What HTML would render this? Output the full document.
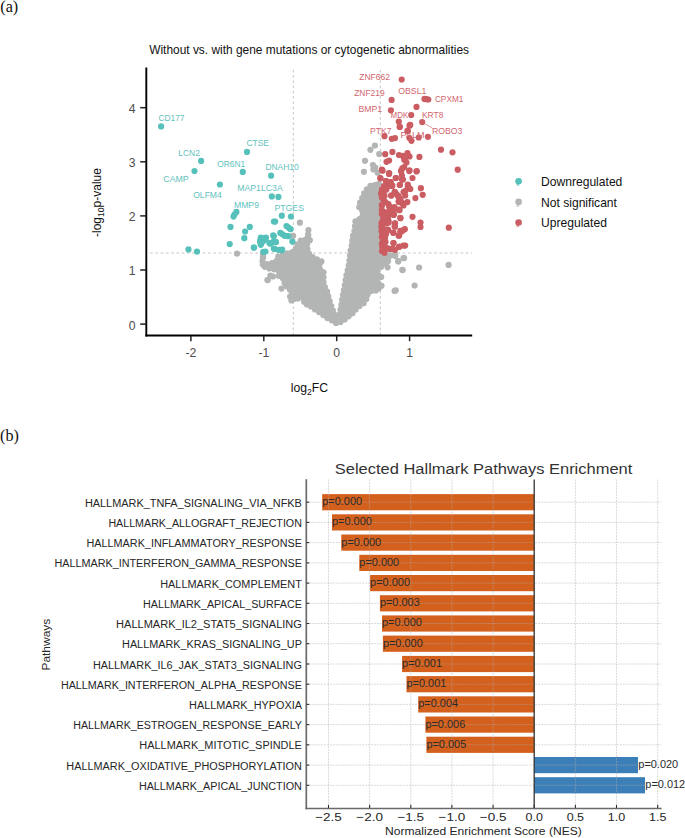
<!DOCTYPE html>
<html><head><meta charset="utf-8"><title>Figure</title>
<style>html,body{margin:0;padding:0;background:#fff;}body{width:685px;height:838px;position:relative;overflow:hidden;font-family:"Liberation Sans",sans-serif;}</style>
</head><body>
<svg width="685" height="838" viewBox="0 0 685 838" style="position:absolute;left:0;top:0"><rect width="685" height="838" fill="#fff"/><text x="0.3" y="11.5" font-family="Liberation Serif" font-size="16.2" fill="#111">(a)</text><text x="0.1" y="440.9" font-family="Liberation Serif" font-size="16.2" fill="#111">(b)</text><text x="149.2" y="53.8" font-family="Liberation Sans" font-size="11.9" fill="#111" textLength="319.8" lengthAdjust="spacingAndGlyphs">Without vs. with gene mutations or cytogenetic abnormalities</text><line x1="293.3" y1="335.4" x2="293.3" y2="67.5" stroke="#c4c4c4" stroke-width="1" stroke-dasharray="2.6 2.66" fill="none"/><line x1="380.3" y1="335.4" x2="380.3" y2="67.5" stroke="#c4c4c4" stroke-width="1" stroke-dasharray="2.6 2.66" fill="none"/><line x1="150.2" y1="253.0" x2="472" y2="253.0" stroke="#c4c4c4" stroke-width="1" stroke-dasharray="2.6 2.66" fill="none"/><polygon fill="#b3b5b4" points="308.2,235.5 306.3,238.8 306.2,239.1 306.0,239.3 305.9,239.4 305.7,239.6 305.5,239.8 305.2,239.9 305.0,240.0 304.8,240.1 304.5,240.2 304.3,240.2 304.0,240.2 301.3,240.2 299.0,241.9 297.0,245.2 295.3,250.2 295.2,250.4 295.0,250.7 294.9,250.9 294.7,251.1 294.5,251.3 294.3,251.5 294.1,251.6 293.9,251.7 293.6,251.8 293.4,251.9 287.6,253.4 280.0,255.6 277.4,257.2 276.6,260.6 276.6,260.8 276.5,261.1 276.4,261.3 276.2,261.5 276.1,261.7 275.9,261.9 275.7,262.1 275.5,262.2 275.3,262.4 275.1,262.5 274.8,262.6 274.6,262.6 267.6,264.1 264.5,264.8 264.2,265.8 265.2,267.6 277.0,269.8 277.3,269.9 277.5,270.0 277.8,270.1 278.0,270.2 278.2,270.4 278.4,270.6 278.6,270.8 278.7,271.0 278.9,271.2 279.0,271.5 279.1,271.7 279.1,272.0 279.2,272.2 279.2,272.5 279.2,272.8 278.8,276.2 280.3,277.1 282.7,278.3 282.9,278.4 283.1,278.5 283.3,278.7 283.5,278.9 283.7,279.1 283.8,279.3 283.9,279.5 284.0,279.7 284.1,280.0 284.2,280.2 284.9,284.2 285.2,286.3 286.8,286.3 287.1,286.3 287.3,286.4 287.6,286.4 287.9,286.5 288.1,286.6 288.4,286.8 288.6,287.0 288.8,287.2 288.9,287.4 289.1,287.6 289.2,287.8 289.3,288.1 290.6,291.5 292.5,295.3 292.6,295.5 294.0,299.2 296.7,300.0 298.7,297.7 298.9,297.5 299.1,297.4 299.3,297.2 299.5,297.1 299.8,297.0 300.0,296.9 300.3,296.8 300.5,296.8 300.8,296.8 301.1,296.8 301.3,296.9 301.6,296.9 301.8,297.0 302.0,297.2 302.3,297.3 302.5,297.5 302.7,297.6 302.8,297.9 303.0,298.1 303.1,298.3 303.2,298.5 303.3,298.8 304.7,303.8 305.6,305.1 306.6,304.6 306.9,304.5 307.1,304.4 307.4,304.3 307.6,304.3 307.9,304.3 308.2,304.3 308.4,304.4 308.7,304.5 308.9,304.6 309.2,304.7 309.4,304.8 309.6,305.0 309.8,305.2 311.7,307.2 315.4,309.6 315.4,309.6 321.6,313.7 321.8,313.9 326.7,317.8 332.5,320.7 332.8,320.9 336.9,323.6 339.0,323.0 343.7,320.2 348.6,316.3 353.5,312.4 357.4,307.5 357.6,307.3 357.8,307.1 358.0,306.9 363.7,303.2 367.1,297.9 367.6,294.5 367.7,294.2 367.8,294.0 367.9,293.7 368.0,293.5 368.2,293.2 368.4,293.0 368.6,292.8 368.8,292.7 372.3,290.3 372.5,290.1 372.8,290.0 373.0,289.9 373.3,289.9 373.5,289.8 373.8,289.8 374.1,289.8 374.4,289.9 374.6,289.9 374.9,290.0 375.1,290.1 375.4,290.3 377.0,291.5 378.1,289.5 379.9,285.9 377.3,282.0 377.1,281.8 377.0,281.6 376.9,281.3 376.9,281.1 376.8,280.8 376.8,280.6 376.8,280.3 376.8,280.0 376.9,279.8 377.0,279.6 377.1,279.3 377.2,279.1 377.3,278.9 379.3,276.2 377.6,272.6 377.5,272.3 377.4,272.1 377.3,271.8 377.3,271.5 377.3,271.2 377.3,271.0 377.4,270.7 377.5,270.4 379.5,265.2 379.6,265.0 379.7,264.7 379.9,264.5 380.1,264.3 380.3,264.1 380.5,264.0 380.7,263.8 380.9,263.7 381.2,263.6 381.5,263.6 381.7,263.5 382.0,263.5 382.3,263.5 382.5,263.6 382.8,263.6 383.1,263.7 383.3,263.8 384.5,264.5 385.9,264.2 386.3,258.3 386.3,258.1 386.4,257.8 386.5,257.6 386.6,257.3 386.7,257.1 386.8,256.9 387.0,256.7 387.2,256.5 387.4,256.3 387.6,256.2 387.8,256.1 388.1,256.0 388.3,255.9 388.6,255.8 395.1,254.7 394.7,254.6 385.5,256.2 385.2,256.2 384.9,256.2 384.6,256.2 384.3,256.1 384.1,256.0 383.8,255.9 383.6,255.8 383.4,255.6 383.1,255.5 383.0,255.3 380.0,251.8 379.8,251.5 379.6,251.3 379.5,251.1 379.4,250.8 379.4,250.6 379.3,250.3 379.3,250.0 378.8,183.2 378.8,183.2 376.5,184.7 376.3,184.9 376.0,185.0 375.8,185.1 375.5,185.1 375.3,185.2 375.0,185.2 374.8,185.2 374.5,185.2 374.3,185.1 372.2,184.5 368.5,187.6 365.2,190.9 362.6,197.1 362.5,197.3 361.1,200.1 359.2,204.8 359.1,205.0 358.9,205.4 359.6,208.7 362.5,211.2 362.7,211.3 362.8,211.5 363.0,211.8 363.1,212.0 363.2,212.3 363.3,212.5 363.4,212.8 363.4,213.1 363.4,213.3 363.4,213.6 363.3,213.9 363.2,214.1 362.1,217.1 362.0,217.4 361.9,217.6 361.8,217.8 361.6,218.0 361.4,218.2 361.2,218.4 361.0,218.5 360.8,218.6 360.5,218.7 355.9,220.5 354.8,222.5 355.2,228.3 355.2,228.5 355.2,228.8 355.1,229.0 355.1,229.3 355.0,229.5 353.0,234.3 352.6,239.0 352.6,239.1 351.6,246.3 351.5,246.5 350.6,250.5 349.6,259.5 349.6,259.6 348.4,267.7 348.3,267.9 346.3,276.0 344.3,288.2 344.3,288.2 341.8,301.4 341.2,307.3 341.1,307.5 341.1,307.8 339.2,314.1 339.1,314.3 339.0,314.6 338.9,314.8 338.7,315.0 338.5,315.2 338.3,315.4 338.1,315.5 337.9,315.7 337.7,315.8 337.4,315.9 337.2,315.9 336.9,316.0 336.6,316.0 336.4,316.0 336.1,316.0 335.9,315.9 335.6,315.8 335.4,315.7 335.2,315.6 334.9,315.4 334.7,315.3 334.6,315.1 334.4,314.9 334.3,314.6 334.1,314.4 334.0,314.2 331.8,307.7 329.7,301.6 329.7,301.4 328.2,296.2 328.2,296.1 326.8,290.4 324.6,286.6 324.5,286.4 324.4,286.2 324.4,285.9 323.4,281.6 323.3,281.4 323.3,281.1 323.3,280.9 323.5,276.9 323.5,276.8 323.8,273.6 323.5,271.6 320.6,269.8 320.3,269.6 320.1,269.5 319.9,269.3 319.8,269.0 319.6,268.8 319.5,268.6 319.4,268.3 319.4,268.0 319.3,267.8 319.3,267.5 319.3,265.5 319.3,265.2 319.4,265.0 319.4,264.7 319.5,264.4 319.6,264.2 319.8,264.0 319.9,263.7 320.1,263.5 320.3,263.4 320.6,263.2 322.4,262.1 322.1,261.7 318.0,260.0 317.7,259.9 317.5,259.7 314.8,257.9 311.1,256.5 310.8,256.4 310.6,256.3 310.4,256.2 310.2,256.0 310.0,255.8 309.8,255.6 309.7,255.4 309.6,255.2 309.5,254.9 308.0,250.9 307.9,250.6 306.9,246.1 306.8,245.8 306.8,245.5 306.8,245.3 306.9,245.0 306.9,244.7 307.0,244.4 307.1,244.2 307.3,244.0 307.5,243.7 309.8,241.0 309.8,238.6 308.2,235.5"/><circle cx="308.2" cy="235.5" r="3.1" fill="#b3b5b4"/><circle cx="305.6" cy="239.7" r="3.1" fill="#b3b5b4"/><circle cx="300.8" cy="240.6" r="3.1" fill="#b3b5b4"/><circle cx="297.5" cy="244.3" r="3.1" fill="#b3b5b4"/><circle cx="295.7" cy="248.9" r="3.1" fill="#b3b5b4"/><circle cx="292.4" cy="252.2" r="3.1" fill="#b3b5b4"/><circle cx="287.6" cy="253.4" r="3.1" fill="#b3b5b4"/><circle cx="282.8" cy="254.8" r="3.1" fill="#b3b5b4"/><circle cx="278.2" cy="256.7" r="3.1" fill="#b3b5b4"/><circle cx="276.4" cy="261.2" r="3.1" fill="#b3b5b4"/><circle cx="272.1" cy="263.2" r="3.1" fill="#b3b5b4"/><circle cx="267.2" cy="264.2" r="3.1" fill="#b3b5b4"/><circle cx="264.8" cy="266.8" r="3.1" fill="#b3b5b4"/><circle cx="269.3" cy="268.4" r="3.1" fill="#b3b5b4"/><circle cx="274.2" cy="269.3" r="3.1" fill="#b3b5b4"/><circle cx="278.8" cy="271.0" r="3.1" fill="#b3b5b4"/><circle cx="278.9" cy="275.9" r="3.1" fill="#b3b5b4"/><circle cx="283.0" cy="278.5" r="3.1" fill="#b3b5b4"/><circle cx="284.6" cy="283.0" r="3.1" fill="#b3b5b4"/><circle cx="286.9" cy="286.3" r="3.1" fill="#b3b5b4"/><circle cx="290.0" cy="289.8" r="3.1" fill="#b3b5b4"/><circle cx="292.0" cy="294.4" r="3.1" fill="#b3b5b4"/><circle cx="293.9" cy="299.0" r="3.1" fill="#b3b5b4"/><circle cx="298.0" cy="298.5" r="3.1" fill="#b3b5b4"/><circle cx="302.3" cy="297.3" r="3.1" fill="#b3b5b4"/><circle cx="304.1" cy="301.8" r="3.1" fill="#b3b5b4"/><circle cx="306.9" cy="304.5" r="3.1" fill="#b3b5b4"/><circle cx="311.0" cy="306.5" r="3.1" fill="#b3b5b4"/><circle cx="315.0" cy="309.4" r="3.1" fill="#b3b5b4"/><circle cx="319.2" cy="312.2" r="3.1" fill="#b3b5b4"/><circle cx="323.3" cy="315.1" r="3.1" fill="#b3b5b4"/><circle cx="327.3" cy="318.1" r="3.1" fill="#b3b5b4"/><circle cx="331.8" cy="320.3" r="3.1" fill="#b3b5b4"/><circle cx="336.0" cy="323.0" r="3.1" fill="#b3b5b4"/><circle cx="340.4" cy="322.1" r="3.1" fill="#b3b5b4"/><circle cx="344.6" cy="319.4" r="3.1" fill="#b3b5b4"/><circle cx="348.6" cy="316.3" r="3.1" fill="#b3b5b4"/><circle cx="352.5" cy="313.2" r="3.1" fill="#b3b5b4"/><circle cx="355.8" cy="309.5" r="3.1" fill="#b3b5b4"/><circle cx="359.4" cy="306.0" r="3.1" fill="#b3b5b4"/><circle cx="363.6" cy="303.3" r="3.1" fill="#b3b5b4"/><circle cx="366.3" cy="299.1" r="3.1" fill="#b3b5b4"/><circle cx="367.6" cy="294.4" r="3.1" fill="#b3b5b4"/><circle cx="371.1" cy="291.0" r="3.1" fill="#b3b5b4"/><circle cx="375.7" cy="290.5" r="3.1" fill="#b3b5b4"/><circle cx="378.6" cy="288.5" r="3.1" fill="#b3b5b4"/><circle cx="378.7" cy="284.2" r="3.1" fill="#b3b5b4"/><circle cx="376.9" cy="279.7" r="3.1" fill="#b3b5b4"/><circle cx="379.0" cy="275.6" r="3.1" fill="#b3b5b4"/><circle cx="377.3" cy="271.0" r="3.1" fill="#b3b5b4"/><circle cx="379.1" cy="266.3" r="3.1" fill="#b3b5b4"/><circle cx="382.6" cy="263.6" r="3.1" fill="#b3b5b4"/><circle cx="386.0" cy="262.7" r="3.1" fill="#b3b5b4"/><circle cx="386.4" cy="257.8" r="3.1" fill="#b3b5b4"/><circle cx="390.5" cy="255.5" r="3.1" fill="#b3b5b4"/><circle cx="394.9" cy="254.6" r="3.1" fill="#b3b5b4"/><circle cx="389.9" cy="255.4" r="3.1" fill="#b3b5b4"/><circle cx="385.0" cy="256.2" r="3.1" fill="#b3b5b4"/><circle cx="381.2" cy="253.2" r="3.1" fill="#b3b5b4"/><circle cx="379.3" cy="248.8" r="3.1" fill="#b3b5b4"/><circle cx="379.3" cy="243.8" r="3.1" fill="#b3b5b4"/><circle cx="379.2" cy="238.8" r="3.1" fill="#b3b5b4"/><circle cx="379.2" cy="233.8" r="3.1" fill="#b3b5b4"/><circle cx="379.1" cy="228.8" r="3.1" fill="#b3b5b4"/><circle cx="379.1" cy="223.8" r="3.1" fill="#b3b5b4"/><circle cx="379.1" cy="218.8" r="3.1" fill="#b3b5b4"/><circle cx="379.0" cy="213.8" r="3.1" fill="#b3b5b4"/><circle cx="379.0" cy="208.8" r="3.1" fill="#b3b5b4"/><circle cx="379.0" cy="203.8" r="3.1" fill="#b3b5b4"/><circle cx="378.9" cy="198.8" r="3.1" fill="#b3b5b4"/><circle cx="378.9" cy="193.8" r="3.1" fill="#b3b5b4"/><circle cx="378.9" cy="188.8" r="3.1" fill="#b3b5b4"/><circle cx="378.8" cy="183.8" r="3.1" fill="#b3b5b4"/><circle cx="374.9" cy="185.2" r="3.1" fill="#b3b5b4"/><circle cx="370.5" cy="185.9" r="3.1" fill="#b3b5b4"/><circle cx="366.9" cy="189.3" r="3.1" fill="#b3b5b4"/><circle cx="364.2" cy="193.4" r="3.1" fill="#b3b5b4"/><circle cx="362.2" cy="198.0" r="3.1" fill="#b3b5b4"/><circle cx="360.1" cy="202.5" r="3.1" fill="#b3b5b4"/><circle cx="359.3" cy="207.2" r="3.1" fill="#b3b5b4"/><circle cx="362.3" cy="211.0" r="3.1" fill="#b3b5b4"/><circle cx="362.7" cy="215.5" r="3.1" fill="#b3b5b4"/><circle cx="359.6" cy="219.1" r="3.1" fill="#b3b5b4"/><circle cx="355.4" cy="221.3" r="3.1" fill="#b3b5b4"/><circle cx="355.0" cy="226.2" r="3.1" fill="#b3b5b4"/><circle cx="354.4" cy="231.0" r="3.1" fill="#b3b5b4"/><circle cx="352.9" cy="235.8" r="3.1" fill="#b3b5b4"/><circle cx="352.3" cy="240.7" r="3.1" fill="#b3b5b4"/><circle cx="351.7" cy="245.7" r="3.1" fill="#b3b5b4"/><circle cx="350.6" cy="250.6" r="3.1" fill="#b3b5b4"/><circle cx="350.0" cy="255.5" r="3.1" fill="#b3b5b4"/><circle cx="349.4" cy="260.5" r="3.1" fill="#b3b5b4"/><circle cx="348.7" cy="265.5" r="3.1" fill="#b3b5b4"/><circle cx="347.7" cy="270.4" r="3.1" fill="#b3b5b4"/><circle cx="346.5" cy="275.2" r="3.1" fill="#b3b5b4"/><circle cx="345.6" cy="280.1" r="3.1" fill="#b3b5b4"/><circle cx="344.8" cy="285.1" r="3.1" fill="#b3b5b4"/><circle cx="343.9" cy="290.0" r="3.1" fill="#b3b5b4"/><circle cx="343.0" cy="294.9" r="3.1" fill="#b3b5b4"/><circle cx="342.1" cy="299.8" r="3.1" fill="#b3b5b4"/><circle cx="341.4" cy="304.8" r="3.1" fill="#b3b5b4"/><circle cx="340.5" cy="309.7" r="3.1" fill="#b3b5b4"/><circle cx="339.0" cy="314.5" r="3.1" fill="#b3b5b4"/><circle cx="334.8" cy="315.3" r="3.1" fill="#b3b5b4"/><circle cx="332.9" cy="310.7" r="3.1" fill="#b3b5b4"/><circle cx="331.3" cy="306.0" r="3.1" fill="#b3b5b4"/><circle cx="329.6" cy="301.2" r="3.1" fill="#b3b5b4"/><circle cx="328.3" cy="296.4" r="3.1" fill="#b3b5b4"/><circle cx="327.1" cy="291.6" r="3.1" fill="#b3b5b4"/><circle cx="324.9" cy="287.1" r="3.1" fill="#b3b5b4"/><circle cx="323.5" cy="282.3" r="3.1" fill="#b3b5b4"/><circle cx="323.5" cy="277.3" r="3.1" fill="#b3b5b4"/><circle cx="323.6" cy="272.3" r="3.1" fill="#b3b5b4"/><circle cx="320.0" cy="269.3" r="3.1" fill="#b3b5b4"/><circle cx="319.5" cy="264.4" r="3.1" fill="#b3b5b4"/><circle cx="321.4" cy="261.4" r="3.1" fill="#b3b5b4"/><circle cx="316.9" cy="259.3" r="3.1" fill="#b3b5b4"/><circle cx="312.5" cy="257.1" r="3.1" fill="#b3b5b4"/><circle cx="309.1" cy="253.8" r="3.1" fill="#b3b5b4"/><circle cx="307.5" cy="249.1" r="3.1" fill="#b3b5b4"/><circle cx="307.1" cy="244.2" r="3.1" fill="#b3b5b4"/><circle cx="309.8" cy="240.2" r="3.1" fill="#b3b5b4"/><circle cx="237.0" cy="253.6" r="3.1" fill="#b3b5b4"/><circle cx="263.0" cy="253.6" r="3.1" fill="#b3b5b4"/><circle cx="267.7" cy="280.0" r="3.1" fill="#b3b5b4"/><circle cx="281.5" cy="288.6" r="3.1" fill="#b3b5b4"/><circle cx="290.1" cy="296.5" r="3.1" fill="#b3b5b4"/><circle cx="291.4" cy="300.4" r="3.1" fill="#b3b5b4"/><circle cx="299.9" cy="222.7" r="3.1" fill="#b3b5b4"/><circle cx="293.1" cy="235.8" r="3.1" fill="#b3b5b4"/><circle cx="308.4" cy="230.0" r="3.1" fill="#b3b5b4"/><circle cx="308.1" cy="234.7" r="3.1" fill="#b3b5b4"/><circle cx="263.0" cy="257.2" r="3.1" fill="#b3b5b4"/><circle cx="374.9" cy="145.5" r="3.1" fill="#b3b5b4"/><circle cx="370.4" cy="149.8" r="3.1" fill="#b3b5b4"/><circle cx="379.2" cy="154.1" r="3.1" fill="#b3b5b4"/><circle cx="365.0" cy="160.8" r="3.1" fill="#b3b5b4"/><circle cx="373.0" cy="165.1" r="3.1" fill="#b3b5b4"/><circle cx="375.3" cy="167.5" r="3.1" fill="#b3b5b4"/><circle cx="373.4" cy="169.4" r="3.1" fill="#b3b5b4"/><circle cx="377.7" cy="172.7" r="3.1" fill="#b3b5b4"/><circle cx="363.9" cy="171.8" r="3.1" fill="#b3b5b4"/><circle cx="404.1" cy="258.0" r="3.1" fill="#b3b5b4"/><circle cx="398.2" cy="261.4" r="3.1" fill="#b3b5b4"/><circle cx="402.6" cy="270.1" r="3.1" fill="#b3b5b4"/><circle cx="419.1" cy="267.5" r="3.1" fill="#b3b5b4"/><circle cx="448.6" cy="264.9" r="3.1" fill="#b3b5b4"/><circle cx="414.6" cy="285.5" r="3.1" fill="#b3b5b4"/><circle cx="395.8" cy="290.3" r="3.1" fill="#b3b5b4"/><circle cx="394.6" cy="290.9" r="3.1" fill="#b3b5b4"/><circle cx="398.4" cy="261.1" r="3.1" fill="#b3b5b4"/><circle cx="387.6" cy="267.3" r="3.1" fill="#b3b5b4"/><circle cx="388.1" cy="261.1" r="3.1" fill="#b3b5b4"/><circle cx="403.5" cy="258.1" r="3.1" fill="#b3b5b4"/><circle cx="395.3" cy="256.0" r="3.1" fill="#b3b5b4"/><circle cx="381.2" cy="266.8" r="3.1" fill="#b3b5b4"/><circle cx="381.2" cy="277.0" r="3.1" fill="#b3b5b4"/><circle cx="381.5" cy="285.8" r="3.1" fill="#b3b5b4"/><circle cx="402.4" cy="269.8" r="3.1" fill="#b3b5b4"/><circle cx="263.0" cy="257.2" r="3.1" fill="#b3b5b4"/><circle cx="262.5" cy="261.0" r="3.1" fill="#b3b5b4"/><circle cx="262.8" cy="264.5" r="3.1" fill="#b3b5b4"/><circle cx="270.4" cy="275.5" r="3.1" fill="#b3b5b4"/><circle cx="273.0" cy="276.5" r="3.1" fill="#b3b5b4"/><circle cx="267.5" cy="280.1" r="3.1" fill="#b3b5b4"/><circle cx="161.1" cy="126.4" r="3.1" fill="#56c0bb"/><circle cx="201.1" cy="160.9" r="3.1" fill="#56c0bb"/><circle cx="194.5" cy="171.0" r="3.1" fill="#56c0bb"/><circle cx="242.8" cy="171.9" r="3.1" fill="#56c0bb"/><circle cx="219.9" cy="184.5" r="3.1" fill="#56c0bb"/><circle cx="247.0" cy="151.9" r="3.1" fill="#56c0bb"/><circle cx="271.1" cy="175.7" r="3.1" fill="#56c0bb"/><circle cx="271.8" cy="196.4" r="3.1" fill="#56c0bb"/><circle cx="278.4" cy="196.9" r="3.1" fill="#56c0bb"/><circle cx="236.4" cy="211.9" r="3.1" fill="#56c0bb"/><circle cx="233.5" cy="216.6" r="3.1" fill="#56c0bb"/><circle cx="234.5" cy="214.5" r="3.1" fill="#56c0bb"/><circle cx="230.5" cy="226.9" r="3.1" fill="#56c0bb"/><circle cx="249.8" cy="226.9" r="3.1" fill="#56c0bb"/><circle cx="245.1" cy="231.5" r="3.1" fill="#56c0bb"/><circle cx="244.3" cy="238.2" r="3.1" fill="#56c0bb"/><circle cx="229.7" cy="244.1" r="3.1" fill="#56c0bb"/><circle cx="253.8" cy="247.6" r="3.1" fill="#56c0bb"/><circle cx="188.5" cy="249.4" r="3.1" fill="#56c0bb"/><circle cx="197.0" cy="251.6" r="3.1" fill="#56c0bb"/><circle cx="260.8" cy="237.5" r="3.1" fill="#56c0bb"/><circle cx="265.9" cy="237.5" r="3.1" fill="#56c0bb"/><circle cx="260.0" cy="241.2" r="3.1" fill="#56c0bb"/><circle cx="263.0" cy="241.2" r="3.1" fill="#56c0bb"/><circle cx="260.8" cy="244.8" r="3.1" fill="#56c0bb"/><circle cx="264.8" cy="239.7" r="3.1" fill="#56c0bb"/><circle cx="262.3" cy="239.0" r="3.1" fill="#56c0bb"/><circle cx="261.5" cy="243.0" r="3.1" fill="#56c0bb"/><circle cx="270.3" cy="243.4" r="3.1" fill="#56c0bb"/><circle cx="273.2" cy="235.3" r="3.1" fill="#56c0bb"/><circle cx="273.5" cy="241.9" r="3.1" fill="#56c0bb"/><circle cx="273.9" cy="248.5" r="3.1" fill="#56c0bb"/><circle cx="273.9" cy="221.5" r="3.1" fill="#56c0bb"/><circle cx="263.3" cy="251.8" r="3.1" fill="#56c0bb"/><circle cx="281.8" cy="215.7" r="3.1" fill="#56c0bb"/><circle cx="290.9" cy="216.5" r="3.1" fill="#56c0bb"/><circle cx="275.2" cy="221.6" r="3.1" fill="#56c0bb"/><circle cx="286.5" cy="226.0" r="3.1" fill="#56c0bb"/><circle cx="290.5" cy="229.2" r="3.1" fill="#56c0bb"/><circle cx="288.5" cy="227.6" r="3.1" fill="#56c0bb"/><circle cx="280.3" cy="232.9" r="3.1" fill="#56c0bb"/><circle cx="284.7" cy="235.8" r="3.1" fill="#56c0bb"/><circle cx="288.4" cy="236.2" r="3.1" fill="#56c0bb"/><circle cx="273.8" cy="236.2" r="3.1" fill="#56c0bb"/><circle cx="265.7" cy="238.0" r="3.1" fill="#56c0bb"/><circle cx="276.0" cy="242.0" r="3.1" fill="#56c0bb"/><circle cx="270.1" cy="243.5" r="3.1" fill="#56c0bb"/><circle cx="273.8" cy="242.0" r="3.1" fill="#56c0bb"/><circle cx="292.4" cy="241.6" r="3.1" fill="#56c0bb"/><circle cx="274.5" cy="248.9" r="3.1" fill="#56c0bb"/><circle cx="282.2" cy="249.7" r="3.1" fill="#56c0bb"/><circle cx="265.4" cy="251.5" r="3.1" fill="#56c0bb"/><circle cx="254.1" cy="247.6" r="3.1" fill="#56c0bb"/><circle cx="281.7" cy="250.2" r="3.1" fill="#56c0bb"/><circle cx="262.8" cy="238.4" r="3.1" fill="#56c0bb"/><circle cx="260.2" cy="242.0" r="3.1" fill="#56c0bb"/><circle cx="269.4" cy="243.0" r="3.1" fill="#56c0bb"/><circle cx="275.5" cy="242.0" r="3.1" fill="#56c0bb"/><circle cx="282.5" cy="234.3" r="3.1" fill="#56c0bb"/><circle cx="286.5" cy="236.0" r="3.1" fill="#56c0bb"/><circle cx="279.0" cy="249.9" r="3.1" fill="#56c0bb"/><circle cx="389.0" cy="174.0" r="3.1" fill="#cb5d62"/><circle cx="380.3" cy="178.3" r="3.1" fill="#cb5d62"/><circle cx="396.0" cy="178.0" r="3.1" fill="#cb5d62"/><circle cx="386.0" cy="181.0" r="3.1" fill="#cb5d62"/><circle cx="390.5" cy="182.0" r="3.1" fill="#cb5d62"/><circle cx="389.0" cy="185.5" r="3.1" fill="#cb5d62"/><circle cx="400.0" cy="184.8" r="3.1" fill="#cb5d62"/><circle cx="402.0" cy="179.5" r="3.1" fill="#cb5d62"/><circle cx="382.0" cy="189.5" r="3.1" fill="#cb5d62"/><circle cx="382.0" cy="194.0" r="3.1" fill="#cb5d62"/><circle cx="386.5" cy="188.5" r="3.1" fill="#cb5d62"/><circle cx="391.0" cy="195.5" r="3.1" fill="#cb5d62"/><circle cx="395.0" cy="192.0" r="3.1" fill="#cb5d62"/><circle cx="398.0" cy="196.0" r="3.1" fill="#cb5d62"/><circle cx="399.0" cy="202.0" r="3.1" fill="#cb5d62"/><circle cx="402.0" cy="203.0" r="3.1" fill="#cb5d62"/><circle cx="384.5" cy="202.0" r="3.1" fill="#cb5d62"/><circle cx="382.0" cy="205.5" r="3.1" fill="#cb5d62"/><circle cx="388.5" cy="204.0" r="3.1" fill="#cb5d62"/><circle cx="390.5" cy="207.0" r="3.1" fill="#cb5d62"/><circle cx="394.5" cy="207.0" r="3.1" fill="#cb5d62"/><circle cx="399.0" cy="209.6" r="3.1" fill="#cb5d62"/><circle cx="385.5" cy="212.6" r="3.1" fill="#cb5d62"/><circle cx="393.0" cy="212.6" r="3.1" fill="#cb5d62"/><circle cx="403.5" cy="192.0" r="3.1" fill="#cb5d62"/><circle cx="387.0" cy="184.0" r="3.1" fill="#cb5d62"/><circle cx="392.0" cy="186.0" r="3.1" fill="#cb5d62"/><circle cx="384.0" cy="186.0" r="3.1" fill="#cb5d62"/><circle cx="383.0" cy="191.5" r="3.1" fill="#cb5d62"/><circle cx="384.5" cy="196.0" r="3.1" fill="#cb5d62"/><circle cx="381.8" cy="197.5" r="3.1" fill="#cb5d62"/><circle cx="384.5" cy="215.2" r="3.1" fill="#cb5d62"/><circle cx="388.7" cy="215.2" r="3.1" fill="#cb5d62"/><circle cx="386.6" cy="220.4" r="3.1" fill="#cb5d62"/><circle cx="388.7" cy="222.5" r="3.1" fill="#cb5d62"/><circle cx="382.9" cy="219.9" r="3.1" fill="#cb5d62"/><circle cx="394.0" cy="214.6" r="3.1" fill="#cb5d62"/><circle cx="400.3" cy="217.8" r="3.1" fill="#cb5d62"/><circle cx="395.0" cy="223.6" r="3.1" fill="#cb5d62"/><circle cx="395.0" cy="226.7" r="3.1" fill="#cb5d62"/><circle cx="381.4" cy="227.2" r="3.1" fill="#cb5d62"/><circle cx="384.5" cy="229.3" r="3.1" fill="#cb5d62"/><circle cx="388.2" cy="229.9" r="3.1" fill="#cb5d62"/><circle cx="393.4" cy="232.5" r="3.1" fill="#cb5d62"/><circle cx="400.3" cy="230.9" r="3.1" fill="#cb5d62"/><circle cx="399.2" cy="235.6" r="3.1" fill="#cb5d62"/><circle cx="382.4" cy="234.1" r="3.1" fill="#cb5d62"/><circle cx="386.1" cy="234.1" r="3.1" fill="#cb5d62"/><circle cx="382.9" cy="239.9" r="3.1" fill="#cb5d62"/><circle cx="381.9" cy="243.5" r="3.1" fill="#cb5d62"/><circle cx="384.5" cy="246.2" r="3.1" fill="#cb5d62"/><circle cx="383.5" cy="249.8" r="3.1" fill="#cb5d62"/><circle cx="387.7" cy="248.3" r="3.1" fill="#cb5d62"/><circle cx="391.9" cy="248.8" r="3.1" fill="#cb5d62"/><circle cx="395.0" cy="249.8" r="3.1" fill="#cb5d62"/><circle cx="393.4" cy="243.0" r="3.1" fill="#cb5d62"/><circle cx="399.2" cy="246.7" r="3.1" fill="#cb5d62"/><circle cx="403.4" cy="245.6" r="3.1" fill="#cb5d62"/><circle cx="384.5" cy="253.0" r="3.1" fill="#cb5d62"/><circle cx="381.8" cy="210.0" r="3.1" fill="#cb5d62"/><circle cx="381.8" cy="214.0" r="3.1" fill="#cb5d62"/><circle cx="381.5" cy="223.0" r="3.1" fill="#cb5d62"/><circle cx="381.6" cy="231.0" r="3.1" fill="#cb5d62"/><circle cx="381.8" cy="237.0" r="3.1" fill="#cb5d62"/><circle cx="382.2" cy="246.5" r="3.1" fill="#cb5d62"/><circle cx="382.0" cy="251.0" r="3.1" fill="#cb5d62"/><circle cx="383.0" cy="224.0" r="3.1" fill="#cb5d62"/><circle cx="385.0" cy="238.0" r="3.1" fill="#cb5d62"/><circle cx="385.5" cy="242.0" r="3.1" fill="#cb5d62"/><circle cx="383.5" cy="200.0" r="3.1" fill="#cb5d62"/><circle cx="386.0" cy="217.5" r="3.1" fill="#cb5d62"/><circle cx="383.5" cy="217.0" r="3.1" fill="#cb5d62"/><circle cx="401.7" cy="79.5" r="3.1" fill="#cb5d62"/><circle cx="391.6" cy="99.9" r="3.1" fill="#cb5d62"/><circle cx="424.5" cy="98.9" r="3.1" fill="#cb5d62"/><circle cx="426.4" cy="99.2" r="3.1" fill="#cb5d62"/><circle cx="428.3" cy="99.5" r="3.1" fill="#cb5d62"/><circle cx="390.9" cy="110.3" r="3.1" fill="#cb5d62"/><circle cx="416.5" cy="106.9" r="3.1" fill="#cb5d62"/><circle cx="411.2" cy="115.0" r="3.1" fill="#cb5d62"/><circle cx="422.2" cy="122.1" r="3.1" fill="#cb5d62"/><circle cx="398.8" cy="121.7" r="3.1" fill="#cb5d62"/><circle cx="399.8" cy="126.8" r="3.1" fill="#cb5d62"/><circle cx="410.2" cy="124.9" r="3.1" fill="#cb5d62"/><circle cx="407.8" cy="131.2" r="3.1" fill="#cb5d62"/><circle cx="384.5" cy="136.2" r="3.1" fill="#cb5d62"/><circle cx="391.8" cy="138.8" r="3.1" fill="#cb5d62"/><circle cx="395.0" cy="138.1" r="3.1" fill="#cb5d62"/><circle cx="409.5" cy="138.1" r="3.1" fill="#cb5d62"/><circle cx="411.5" cy="140.8" r="3.1" fill="#cb5d62"/><circle cx="418.7" cy="137.5" r="3.1" fill="#cb5d62"/><circle cx="427.9" cy="136.8" r="3.1" fill="#cb5d62"/><circle cx="441.0" cy="149.7" r="3.1" fill="#cb5d62"/><circle cx="452.5" cy="152.3" r="3.1" fill="#cb5d62"/><circle cx="385.2" cy="154.2" r="3.1" fill="#cb5d62"/><circle cx="392.4" cy="151.9" r="3.1" fill="#cb5d62"/><circle cx="399.0" cy="155.0" r="3.1" fill="#cb5d62"/><circle cx="402.9" cy="155.9" r="3.1" fill="#cb5d62"/><circle cx="407.5" cy="153.2" r="3.1" fill="#cb5d62"/><circle cx="409.5" cy="156.5" r="3.1" fill="#cb5d62"/><circle cx="404.2" cy="159.8" r="3.1" fill="#cb5d62"/><circle cx="419.4" cy="156.9" r="3.1" fill="#cb5d62"/><circle cx="386.5" cy="161.8" r="3.1" fill="#cb5d62"/><circle cx="389.1" cy="160.5" r="3.1" fill="#cb5d62"/><circle cx="381.9" cy="169.7" r="3.1" fill="#cb5d62"/><circle cx="389.1" cy="173.0" r="3.1" fill="#cb5d62"/><circle cx="402.3" cy="168.4" r="3.1" fill="#cb5d62"/><circle cx="404.2" cy="167.0" r="3.1" fill="#cb5d62"/><circle cx="401.0" cy="171.0" r="3.1" fill="#cb5d62"/><circle cx="409.5" cy="170.3" r="3.1" fill="#cb5d62"/><circle cx="416.7" cy="171.0" r="3.1" fill="#cb5d62"/><circle cx="457.7" cy="169.7" r="3.1" fill="#cb5d62"/><circle cx="399.7" cy="127.0" r="3.1" fill="#cb5d62"/><circle cx="409.5" cy="125.7" r="3.1" fill="#cb5d62"/><circle cx="407.5" cy="130.9" r="3.1" fill="#cb5d62"/><circle cx="405.5" cy="157.5" r="3.1" fill="#cb5d62"/><circle cx="406.5" cy="162.5" r="3.1" fill="#cb5d62"/><circle cx="382.6" cy="170.7" r="3.1" fill="#cb5d62"/><circle cx="389.1" cy="173.6" r="3.1" fill="#cb5d62"/><circle cx="401.2" cy="171.1" r="3.1" fill="#cb5d62"/><circle cx="409.2" cy="171.1" r="3.1" fill="#cb5d62"/><circle cx="416.5" cy="171.5" r="3.1" fill="#cb5d62"/><circle cx="380.4" cy="178.0" r="3.1" fill="#cb5d62"/><circle cx="395.7" cy="178.0" r="3.1" fill="#cb5d62"/><circle cx="401.9" cy="175.5" r="3.1" fill="#cb5d62"/><circle cx="403.0" cy="179.5" r="3.1" fill="#cb5d62"/><circle cx="412.5" cy="178.0" r="3.1" fill="#cb5d62"/><circle cx="385.9" cy="181.0" r="3.1" fill="#cb5d62"/><circle cx="390.6" cy="182.0" r="3.1" fill="#cb5d62"/><circle cx="392.4" cy="185.7" r="3.1" fill="#cb5d62"/><circle cx="388.0" cy="185.3" r="3.1" fill="#cb5d62"/><circle cx="399.7" cy="185.0" r="3.1" fill="#cb5d62"/><circle cx="407.8" cy="184.6" r="3.1" fill="#cb5d62"/><circle cx="410.3" cy="189.0" r="3.1" fill="#cb5d62"/><circle cx="420.9" cy="188.2" r="3.1" fill="#cb5d62"/><circle cx="382.6" cy="189.7" r="3.1" fill="#cb5d62"/><circle cx="386.2" cy="189.7" r="3.1" fill="#cb5d62"/><circle cx="381.1" cy="193.4" r="3.1" fill="#cb5d62"/><circle cx="384.0" cy="194.8" r="3.1" fill="#cb5d62"/><circle cx="405.2" cy="191.2" r="3.1" fill="#cb5d62"/><circle cx="405.2" cy="195.5" r="3.1" fill="#cb5d62"/><circle cx="394.6" cy="191.9" r="3.1" fill="#cb5d62"/><circle cx="391.3" cy="195.5" r="3.1" fill="#cb5d62"/><circle cx="398.6" cy="196.3" r="3.1" fill="#cb5d62"/><circle cx="415.4" cy="198.1" r="3.1" fill="#cb5d62"/><circle cx="422.7" cy="194.8" r="3.1" fill="#cb5d62"/><circle cx="398.6" cy="201.4" r="3.1" fill="#cb5d62"/><circle cx="402.3" cy="203.2" r="3.1" fill="#cb5d62"/><circle cx="407.4" cy="202.1" r="3.1" fill="#cb5d62"/><circle cx="385.5" cy="202.1" r="3.1" fill="#cb5d62"/><circle cx="381.8" cy="205.0" r="3.1" fill="#cb5d62"/><circle cx="389.1" cy="206.5" r="3.1" fill="#cb5d62"/><circle cx="394.2" cy="208.0" r="3.1" fill="#cb5d62"/><circle cx="399.4" cy="209.8" r="3.1" fill="#cb5d62"/><circle cx="384.8" cy="212.3" r="3.1" fill="#cb5d62"/><circle cx="393.5" cy="213.8" r="3.1" fill="#cb5d62"/><circle cx="396.5" cy="194.0" r="3.1" fill="#cb5d62"/><circle cx="400.5" cy="199.0" r="3.1" fill="#cb5d62"/><circle cx="403.5" cy="205.5" r="3.1" fill="#cb5d62"/><circle cx="407.8" cy="186.8" r="3.1" fill="#cb5d62"/><circle cx="408.8" cy="187.9" r="3.1" fill="#cb5d62"/><circle cx="389.9" cy="209.5" r="3.1" fill="#cb5d62"/><circle cx="394.2" cy="209.1" r="3.1" fill="#cb5d62"/><circle cx="399.4" cy="210.2" r="3.1" fill="#cb5d62"/><circle cx="393.5" cy="214.9" r="3.1" fill="#cb5d62"/><circle cx="400.5" cy="218.2" r="3.1" fill="#cb5d62"/><circle cx="412.5" cy="216.8" r="3.1" fill="#cb5d62"/><circle cx="420.5" cy="222.6" r="3.1" fill="#cb5d62"/><circle cx="420.5" cy="227.0" r="3.1" fill="#cb5d62"/><circle cx="395.0" cy="223.3" r="3.1" fill="#cb5d62"/><circle cx="394.6" cy="226.2" r="3.1" fill="#cb5d62"/><circle cx="385.5" cy="215.3" r="3.1" fill="#cb5d62"/><circle cx="388.4" cy="220.4" r="3.1" fill="#cb5d62"/><circle cx="384.0" cy="221.1" r="3.1" fill="#cb5d62"/><circle cx="387.0" cy="223.3" r="3.1" fill="#cb5d62"/><circle cx="404.8" cy="229.2" r="3.1" fill="#cb5d62"/><circle cx="401.5" cy="231.4" r="3.1" fill="#cb5d62"/><circle cx="398.6" cy="235.7" r="3.1" fill="#cb5d62"/><circle cx="403.0" cy="230.3" r="3.1" fill="#cb5d62"/><circle cx="393.2" cy="232.8" r="3.1" fill="#cb5d62"/><circle cx="382.6" cy="229.9" r="3.1" fill="#cb5d62"/><circle cx="387.0" cy="229.9" r="3.1" fill="#cb5d62"/><circle cx="383.3" cy="234.3" r="3.1" fill="#cb5d62"/><circle cx="384.0" cy="238.7" r="3.1" fill="#cb5d62"/><circle cx="393.5" cy="243.0" r="3.1" fill="#cb5d62"/><circle cx="399.0" cy="247.0" r="3.1" fill="#cb5d62"/><circle cx="405.2" cy="245.6" r="3.1" fill="#cb5d62"/><circle cx="383.3" cy="243.0" r="3.1" fill="#cb5d62"/><circle cx="384.8" cy="247.4" r="3.1" fill="#cb5d62"/><circle cx="389.1" cy="248.9" r="3.1" fill="#cb5d62"/><circle cx="392.8" cy="248.9" r="3.1" fill="#cb5d62"/><circle cx="384.0" cy="251.8" r="3.1" fill="#cb5d62"/><circle cx="448.8" cy="227.7" r="3.1" fill="#cb5d62"/><text x="158.5" y="121.1" font-family="Liberation Sans" font-size="9.7" fill="#5fc2be" textLength="26.0" lengthAdjust="spacingAndGlyphs">CD177</text><text x="178.3" y="156.1" font-family="Liberation Sans" font-size="9.7" fill="#5fc2be" textLength="21.6" lengthAdjust="spacingAndGlyphs">LCN2</text><text x="163.3" y="182.3" font-family="Liberation Sans" font-size="9.7" fill="#5fc2be" textLength="25.4" lengthAdjust="spacingAndGlyphs">CAMP</text><text x="217.3" y="167.1" font-family="Liberation Sans" font-size="9.7" fill="#5fc2be" textLength="27.9" lengthAdjust="spacingAndGlyphs">OR6N1</text><text x="193.2" y="198.2" font-family="Liberation Sans" font-size="9.7" fill="#5fc2be" textLength="28.6" lengthAdjust="spacingAndGlyphs">OLFM4</text><text x="246.4" y="146.1" font-family="Liberation Sans" font-size="9.7" fill="#5fc2be" textLength="22.5" lengthAdjust="spacingAndGlyphs">CTSE</text><text x="265.4" y="170.2" font-family="Liberation Sans" font-size="9.7" fill="#5fc2be" textLength="33.4" lengthAdjust="spacingAndGlyphs">DNAH10</text><text x="237.2" y="191.2" font-family="Liberation Sans" font-size="9.7" fill="#5fc2be" textLength="45.6" lengthAdjust="spacingAndGlyphs">MAP1LC3A</text><text x="233.9" y="207.8" font-family="Liberation Sans" font-size="9.7" fill="#5fc2be" textLength="25.1" lengthAdjust="spacingAndGlyphs">MMP9</text><text x="274.4" y="210.8" font-family="Liberation Sans" font-size="9.7" fill="#5fc2be" textLength="29.6" lengthAdjust="spacingAndGlyphs">PTGES</text><text x="359.3" y="80.2" font-family="Liberation Sans" font-size="9.7" fill="#d2666e" textLength="30.6" lengthAdjust="spacingAndGlyphs">ZNF662</text><text x="398.2" y="93.9" font-family="Liberation Sans" font-size="9.7" fill="#d2666e" textLength="28.2" lengthAdjust="spacingAndGlyphs">OBSL1</text><text x="354.2" y="96.4" font-family="Liberation Sans" font-size="9.7" fill="#d2666e" textLength="30.4" lengthAdjust="spacingAndGlyphs">ZNF219</text><text x="434.9" y="102.1" font-family="Liberation Sans" font-size="9.7" fill="#d2666e" textLength="28.5" lengthAdjust="spacingAndGlyphs">CPXM1</text><text x="358.4" y="111.9" font-family="Liberation Sans" font-size="9.7" fill="#d2666e" textLength="23.7" lengthAdjust="spacingAndGlyphs">BMP1</text><text x="390.6" y="117.6" font-family="Liberation Sans" font-size="9.7" fill="#d2666e" textLength="17.7" lengthAdjust="spacingAndGlyphs">MDK</text><text x="422.0" y="117.6" font-family="Liberation Sans" font-size="9.7" fill="#d2666e" textLength="21.4" lengthAdjust="spacingAndGlyphs">KRT8</text><text x="432.0" y="133.9" font-family="Liberation Sans" font-size="9.7" fill="#d2666e" textLength="30.4" lengthAdjust="spacingAndGlyphs">ROBO3</text><text x="370.1" y="133.7" font-family="Liberation Sans" font-size="9.7" fill="#d2666e" textLength="21.5" lengthAdjust="spacingAndGlyphs">PTK7</text><text x="400.5" y="137.7" font-family="Liberation Sans" font-size="9.7" fill="#d2666e" textLength="24.0" lengthAdjust="spacingAndGlyphs">PALM</text><line x1="425" y1="123.8" x2="432.5" y2="128.2" stroke="#cb5d62" stroke-width="0.6"/><line x1="146.3" y1="67.5" x2="146.3" y2="336.4" stroke="#000" stroke-width="1.9"/><line x1="145.4" y1="335.5" x2="472.2" y2="335.5" stroke="#000" stroke-width="1.9"/><line x1="140.2" y1="324.1" x2="146" y2="324.1" stroke="#222" stroke-width="1.5"/><text x="135.6" y="329.5" font-family="Liberation Sans" font-size="12.2" fill="#4d4d4d" text-anchor="end">0</text><line x1="140.2" y1="270.0" x2="146" y2="270.0" stroke="#222" stroke-width="1.5"/><text x="135.6" y="275.4" font-family="Liberation Sans" font-size="12.2" fill="#4d4d4d" text-anchor="end">1</text><line x1="140.2" y1="215.9" x2="146" y2="215.9" stroke="#222" stroke-width="1.5"/><text x="135.6" y="221.3" font-family="Liberation Sans" font-size="12.2" fill="#4d4d4d" text-anchor="end">2</text><line x1="140.2" y1="161.8" x2="146" y2="161.8" stroke="#222" stroke-width="1.5"/><text x="135.6" y="167.2" font-family="Liberation Sans" font-size="12.2" fill="#4d4d4d" text-anchor="end">3</text><line x1="140.2" y1="107.7" x2="146" y2="107.7" stroke="#222" stroke-width="1.5"/><text x="135.6" y="113.1" font-family="Liberation Sans" font-size="12.2" fill="#4d4d4d" text-anchor="end">4</text><line x1="190.9" y1="335.8" x2="190.9" y2="341.2" stroke="#222" stroke-width="1.5"/><text x="190.9" y="357.2" font-family="Liberation Sans" font-size="12.2" fill="#4d4d4d" text-anchor="middle">-2</text><line x1="263.8" y1="335.8" x2="263.8" y2="341.2" stroke="#222" stroke-width="1.5"/><text x="263.8" y="357.2" font-family="Liberation Sans" font-size="12.2" fill="#4d4d4d" text-anchor="middle">-1</text><line x1="336.7" y1="335.8" x2="336.7" y2="341.2" stroke="#222" stroke-width="1.5"/><text x="336.7" y="357.2" font-family="Liberation Sans" font-size="12.2" fill="#4d4d4d" text-anchor="middle">0</text><line x1="409.6" y1="335.8" x2="409.6" y2="341.2" stroke="#222" stroke-width="1.5"/><text x="409.6" y="357.2" font-family="Liberation Sans" font-size="12.2" fill="#4d4d4d" text-anchor="middle">1</text><text x="290.8" y="391.8" font-family="Liberation Sans" font-size="12.2" fill="#111">log<tspan font-size="8.6" dy="3">2</tspan><tspan dy="-3">FC</tspan></text><text transform="translate(100.9,237.0) rotate(-90)" font-family="Liberation Sans" font-size="12.0" fill="#111">-log<tspan font-size="8.6" dy="3">10</tspan><tspan dy="-3">p-value</tspan></text><circle cx="518.6" cy="181.3" r="3.3" fill="#56c0bb"/><text x="516.2" y="185.9" font-family="Liberation Sans" font-size="5" fill="#56c0bb">a</text><text x="541.0" y="186.2" font-family="Liberation Sans" font-size="12.1" fill="#111">Downregulated</text><circle cx="518.6" cy="201.9" r="3.3" fill="#b3b5b4"/><text x="516.2" y="206.5" font-family="Liberation Sans" font-size="5" fill="#b3b5b4">a</text><text x="541.0" y="206.8" font-family="Liberation Sans" font-size="12.1" fill="#111">Not significant</text><circle cx="518.6" cy="222.5" r="3.3" fill="#cb5d62"/><text x="516.2" y="227.1" font-family="Liberation Sans" font-size="5" fill="#cb5d62">a</text><text x="541.0" y="227.4" font-family="Liberation Sans" font-size="12.1" fill="#111">Upregulated</text><text x="334.8" y="474.4" font-family="Liberation Sans" font-size="15.3" fill="#333333" textLength="297.5" lengthAdjust="spacingAndGlyphs">Selected Hallmark Pathways Enrichment</text><rect x="322.2" y="494.1" width="212.0" height="16.2" fill="#d4601d"/><rect x="332.0" y="514.3" width="202.2" height="16.2" fill="#d4601d"/><rect x="341.3" y="534.5" width="192.9" height="16.2" fill="#d4601d"/><rect x="359.3" y="554.8" width="174.9" height="16.2" fill="#d4601d"/><rect x="370.1" y="575.0" width="164.1" height="16.2" fill="#d4601d"/><rect x="379.9" y="595.2" width="154.3" height="16.2" fill="#d4601d"/><rect x="382.0" y="615.4" width="152.2" height="16.2" fill="#d4601d"/><rect x="382.9" y="635.6" width="151.3" height="16.2" fill="#d4601d"/><rect x="402.1" y="655.9" width="132.1" height="16.2" fill="#d4601d"/><rect x="406.5" y="676.1" width="127.7" height="16.2" fill="#d4601d"/><rect x="418.2" y="696.3" width="116.0" height="16.2" fill="#d4601d"/><rect x="425.4" y="716.5" width="108.8" height="16.2" fill="#d4601d"/><rect x="426.4" y="736.7" width="107.8" height="16.2" fill="#d4601d"/><rect x="534.2" y="757.0" width="103.8" height="16.2" fill="#3c7fb8"/><rect x="534.2" y="777.2" width="110.8" height="16.2" fill="#3c7fb8"/><line x1="328.5" y1="479.5" x2="328.5" y2="808" stroke="#b0b0b0" stroke-opacity="0.55" stroke-width="0.85" stroke-dasharray="2.0 0.93"/><line x1="369.6" y1="479.5" x2="369.6" y2="808" stroke="#b0b0b0" stroke-opacity="0.55" stroke-width="0.85" stroke-dasharray="2.0 0.93"/><line x1="410.8" y1="479.5" x2="410.8" y2="808" stroke="#b0b0b0" stroke-opacity="0.55" stroke-width="0.85" stroke-dasharray="2.0 0.93"/><line x1="451.9" y1="479.5" x2="451.9" y2="808" stroke="#b0b0b0" stroke-opacity="0.55" stroke-width="0.85" stroke-dasharray="2.0 0.93"/><line x1="493.1" y1="479.5" x2="493.1" y2="808" stroke="#b0b0b0" stroke-opacity="0.55" stroke-width="0.85" stroke-dasharray="2.0 0.93"/><line x1="575.4" y1="479.5" x2="575.4" y2="808" stroke="#b0b0b0" stroke-opacity="0.55" stroke-width="0.85" stroke-dasharray="2.0 0.93"/><line x1="616.5" y1="479.5" x2="616.5" y2="808" stroke="#b0b0b0" stroke-opacity="0.55" stroke-width="0.85" stroke-dasharray="2.0 0.93"/><line x1="657.7" y1="479.5" x2="657.7" y2="808" stroke="#b0b0b0" stroke-opacity="0.55" stroke-width="0.85" stroke-dasharray="2.0 0.93"/><line x1="306.5" y1="502.2" x2="661.5" y2="502.2" stroke="#b0b0b0" stroke-opacity="0.55" stroke-width="0.85" stroke-dasharray="2.0 0.93"/><line x1="306.5" y1="522.4" x2="661.5" y2="522.4" stroke="#b0b0b0" stroke-opacity="0.55" stroke-width="0.85" stroke-dasharray="2.0 0.93"/><line x1="306.5" y1="542.6" x2="661.5" y2="542.6" stroke="#b0b0b0" stroke-opacity="0.55" stroke-width="0.85" stroke-dasharray="2.0 0.93"/><line x1="306.5" y1="562.9" x2="661.5" y2="562.9" stroke="#b0b0b0" stroke-opacity="0.55" stroke-width="0.85" stroke-dasharray="2.0 0.93"/><line x1="306.5" y1="583.1" x2="661.5" y2="583.1" stroke="#b0b0b0" stroke-opacity="0.55" stroke-width="0.85" stroke-dasharray="2.0 0.93"/><line x1="306.5" y1="603.3" x2="661.5" y2="603.3" stroke="#b0b0b0" stroke-opacity="0.55" stroke-width="0.85" stroke-dasharray="2.0 0.93"/><line x1="306.5" y1="623.5" x2="661.5" y2="623.5" stroke="#b0b0b0" stroke-opacity="0.55" stroke-width="0.85" stroke-dasharray="2.0 0.93"/><line x1="306.5" y1="643.7" x2="661.5" y2="643.7" stroke="#b0b0b0" stroke-opacity="0.55" stroke-width="0.85" stroke-dasharray="2.0 0.93"/><line x1="306.5" y1="664.0" x2="661.5" y2="664.0" stroke="#b0b0b0" stroke-opacity="0.55" stroke-width="0.85" stroke-dasharray="2.0 0.93"/><line x1="306.5" y1="684.2" x2="661.5" y2="684.2" stroke="#b0b0b0" stroke-opacity="0.55" stroke-width="0.85" stroke-dasharray="2.0 0.93"/><line x1="306.5" y1="704.4" x2="661.5" y2="704.4" stroke="#b0b0b0" stroke-opacity="0.55" stroke-width="0.85" stroke-dasharray="2.0 0.93"/><line x1="306.5" y1="724.6" x2="661.5" y2="724.6" stroke="#b0b0b0" stroke-opacity="0.55" stroke-width="0.85" stroke-dasharray="2.0 0.93"/><line x1="306.5" y1="744.8" x2="661.5" y2="744.8" stroke="#b0b0b0" stroke-opacity="0.55" stroke-width="0.85" stroke-dasharray="2.0 0.93"/><line x1="306.5" y1="765.1" x2="661.5" y2="765.1" stroke="#b0b0b0" stroke-opacity="0.55" stroke-width="0.85" stroke-dasharray="2.0 0.93"/><line x1="306.5" y1="785.3" x2="661.5" y2="785.3" stroke="#b0b0b0" stroke-opacity="0.55" stroke-width="0.85" stroke-dasharray="2.0 0.93"/><line x1="534.2" y1="479.5" x2="534.2" y2="808.5" stroke="#333" stroke-width="1.3"/><text x="322.2" y="505.1" font-family="Liberation Sans" font-size="10.0" fill="#2b2b2b" textLength="39.9" lengthAdjust="spacingAndGlyphs">p=0.000</text><text x="332.0" y="525.3" font-family="Liberation Sans" font-size="10.0" fill="#2b2b2b" textLength="39.9" lengthAdjust="spacingAndGlyphs">p=0.000</text><text x="341.3" y="545.5" font-family="Liberation Sans" font-size="10.0" fill="#2b2b2b" textLength="39.9" lengthAdjust="spacingAndGlyphs">p=0.000</text><text x="359.3" y="565.8" font-family="Liberation Sans" font-size="10.0" fill="#2b2b2b" textLength="39.9" lengthAdjust="spacingAndGlyphs">p=0.000</text><text x="370.1" y="586.0" font-family="Liberation Sans" font-size="10.0" fill="#2b2b2b" textLength="39.9" lengthAdjust="spacingAndGlyphs">p=0.000</text><text x="379.9" y="606.2" font-family="Liberation Sans" font-size="10.0" fill="#2b2b2b" textLength="39.9" lengthAdjust="spacingAndGlyphs">p=0.003</text><text x="382.0" y="626.4" font-family="Liberation Sans" font-size="10.0" fill="#2b2b2b" textLength="39.9" lengthAdjust="spacingAndGlyphs">p=0.000</text><text x="382.9" y="646.6" font-family="Liberation Sans" font-size="10.0" fill="#2b2b2b" textLength="39.9" lengthAdjust="spacingAndGlyphs">p=0.000</text><text x="402.1" y="666.9" font-family="Liberation Sans" font-size="10.0" fill="#2b2b2b" textLength="39.9" lengthAdjust="spacingAndGlyphs">p=0.001</text><text x="406.5" y="687.1" font-family="Liberation Sans" font-size="10.0" fill="#2b2b2b" textLength="39.9" lengthAdjust="spacingAndGlyphs">p=0.001</text><text x="418.2" y="707.3" font-family="Liberation Sans" font-size="10.0" fill="#2b2b2b" textLength="39.9" lengthAdjust="spacingAndGlyphs">p=0.004</text><text x="425.4" y="727.5" font-family="Liberation Sans" font-size="10.0" fill="#2b2b2b" textLength="39.9" lengthAdjust="spacingAndGlyphs">p=0.006</text><text x="426.4" y="747.7" font-family="Liberation Sans" font-size="10.0" fill="#2b2b2b" textLength="39.9" lengthAdjust="spacingAndGlyphs">p=0.005</text><text x="638.3" y="768.0" font-family="Liberation Sans" font-size="10.0" fill="#2b2b2b" textLength="39.9" lengthAdjust="spacingAndGlyphs">p=0.020</text><text x="645.3" y="788.2" font-family="Liberation Sans" font-size="10.0" fill="#2b2b2b" textLength="39.9" lengthAdjust="spacingAndGlyphs">p=0.012</text><line x1="306.3" y1="479.2" x2="306.3" y2="809.2" stroke="#6a6a6a" stroke-width="1.7"/><line x1="305.5" y1="808.5" x2="661.6" y2="808.5" stroke="#6a6a6a" stroke-width="1.7"/><line x1="306.5" y1="502.2" x2="309.3" y2="502.2" stroke="#333" stroke-width="1.1"/><text x="301.9" y="506.7" font-family="Liberation Sans" font-size="11.7" fill="#262626" text-anchor="end" textLength="217.0" lengthAdjust="spacingAndGlyphs">HALLMARK_TNFA_SIGNALING_VIA_NFKB</text><line x1="306.5" y1="522.4" x2="309.3" y2="522.4" stroke="#333" stroke-width="1.1"/><text x="301.9" y="526.9" font-family="Liberation Sans" font-size="11.7" fill="#262626" text-anchor="end" textLength="193.5" lengthAdjust="spacingAndGlyphs">HALLMARK_ALLOGRAFT_REJECTION</text><line x1="306.5" y1="542.6" x2="309.3" y2="542.6" stroke="#333" stroke-width="1.1"/><text x="301.9" y="547.1" font-family="Liberation Sans" font-size="11.7" fill="#262626" text-anchor="end" textLength="215.4" lengthAdjust="spacingAndGlyphs">HALLMARK_INFLAMMATORY_RESPONSE</text><line x1="306.5" y1="562.9" x2="309.3" y2="562.9" stroke="#333" stroke-width="1.1"/><text x="301.9" y="567.4" font-family="Liberation Sans" font-size="11.7" fill="#262626" text-anchor="end" textLength="247.5" lengthAdjust="spacingAndGlyphs">HALLMARK_INTERFERON_GAMMA_RESPONSE</text><line x1="306.5" y1="583.1" x2="309.3" y2="583.1" stroke="#333" stroke-width="1.1"/><text x="301.9" y="587.6" font-family="Liberation Sans" font-size="11.7" fill="#262626" text-anchor="end" textLength="141.7" lengthAdjust="spacingAndGlyphs">HALLMARK_COMPLEMENT</text><line x1="306.5" y1="603.3" x2="309.3" y2="603.3" stroke="#333" stroke-width="1.1"/><text x="301.9" y="607.8" font-family="Liberation Sans" font-size="11.7" fill="#262626" text-anchor="end" textLength="158.9" lengthAdjust="spacingAndGlyphs">HALLMARK_APICAL_SURFACE</text><line x1="306.5" y1="623.5" x2="309.3" y2="623.5" stroke="#333" stroke-width="1.1"/><text x="301.9" y="628.0" font-family="Liberation Sans" font-size="11.7" fill="#262626" text-anchor="end" textLength="185.8" lengthAdjust="spacingAndGlyphs">HALLMARK_IL2_STAT5_SIGNALING</text><line x1="306.5" y1="643.7" x2="309.3" y2="643.7" stroke="#333" stroke-width="1.1"/><text x="301.9" y="648.2" font-family="Liberation Sans" font-size="11.7" fill="#262626" text-anchor="end" textLength="179.8" lengthAdjust="spacingAndGlyphs">HALLMARK_KRAS_SIGNALING_UP</text><line x1="306.5" y1="664.0" x2="309.3" y2="664.0" stroke="#333" stroke-width="1.1"/><text x="301.9" y="668.5" font-family="Liberation Sans" font-size="11.7" fill="#262626" text-anchor="end" textLength="209.0" lengthAdjust="spacingAndGlyphs">HALLMARK_IL6_JAK_STAT3_SIGNALING</text><line x1="306.5" y1="684.2" x2="309.3" y2="684.2" stroke="#333" stroke-width="1.1"/><text x="301.9" y="688.7" font-family="Liberation Sans" font-size="11.7" fill="#262626" text-anchor="end" textLength="241.0" lengthAdjust="spacingAndGlyphs">HALLMARK_INTERFERON_ALPHA_RESPONSE</text><line x1="306.5" y1="704.4" x2="309.3" y2="704.4" stroke="#333" stroke-width="1.1"/><text x="301.9" y="708.9" font-family="Liberation Sans" font-size="11.7" fill="#262626" text-anchor="end" textLength="112.8" lengthAdjust="spacingAndGlyphs">HALLMARK_HYPOXIA</text><line x1="306.5" y1="724.6" x2="309.3" y2="724.6" stroke="#333" stroke-width="1.1"/><text x="301.9" y="729.1" font-family="Liberation Sans" font-size="11.7" fill="#262626" text-anchor="end" textLength="228.6" lengthAdjust="spacingAndGlyphs">HALLMARK_ESTROGEN_RESPONSE_EARLY</text><line x1="306.5" y1="744.8" x2="309.3" y2="744.8" stroke="#333" stroke-width="1.1"/><text x="301.9" y="749.3" font-family="Liberation Sans" font-size="11.7" fill="#262626" text-anchor="end" textLength="162.6" lengthAdjust="spacingAndGlyphs">HALLMARK_MITOTIC_SPINDLE</text><line x1="306.5" y1="765.1" x2="309.3" y2="765.1" stroke="#333" stroke-width="1.1"/><text x="301.9" y="769.6" font-family="Liberation Sans" font-size="11.7" fill="#262626" text-anchor="end" textLength="235.6" lengthAdjust="spacingAndGlyphs">HALLMARK_OXIDATIVE_PHOSPHORYLATION</text><line x1="306.5" y1="785.3" x2="309.3" y2="785.3" stroke="#333" stroke-width="1.1"/><text x="301.9" y="789.8" font-family="Liberation Sans" font-size="11.7" fill="#262626" text-anchor="end" textLength="163.0" lengthAdjust="spacingAndGlyphs">HALLMARK_APICAL_JUNCTION</text><line x1="328.5" y1="804.8" x2="328.5" y2="808" stroke="#333" stroke-width="1.1"/><text x="328.5" y="820.9" font-family="Liberation Sans" font-size="11.7" fill="#262626" text-anchor="middle" textLength="26.6" lengthAdjust="spacingAndGlyphs">−2.5</text><line x1="369.6" y1="804.8" x2="369.6" y2="808" stroke="#333" stroke-width="1.1"/><text x="369.6" y="820.9" font-family="Liberation Sans" font-size="11.7" fill="#262626" text-anchor="middle" textLength="26.6" lengthAdjust="spacingAndGlyphs">−2.0</text><line x1="410.8" y1="804.8" x2="410.8" y2="808" stroke="#333" stroke-width="1.1"/><text x="410.8" y="820.9" font-family="Liberation Sans" font-size="11.7" fill="#262626" text-anchor="middle" textLength="26.6" lengthAdjust="spacingAndGlyphs">−1.5</text><line x1="451.9" y1="804.8" x2="451.9" y2="808" stroke="#333" stroke-width="1.1"/><text x="451.9" y="820.9" font-family="Liberation Sans" font-size="11.7" fill="#262626" text-anchor="middle" textLength="26.6" lengthAdjust="spacingAndGlyphs">−1.0</text><line x1="493.1" y1="804.8" x2="493.1" y2="808" stroke="#333" stroke-width="1.1"/><text x="493.1" y="820.9" font-family="Liberation Sans" font-size="11.7" fill="#262626" text-anchor="middle" textLength="26.6" lengthAdjust="spacingAndGlyphs">−0.5</text><line x1="534.2" y1="804.8" x2="534.2" y2="808" stroke="#333" stroke-width="1.1"/><text x="534.2" y="820.9" font-family="Liberation Sans" font-size="11.7" fill="#262626" text-anchor="middle" textLength="17.4" lengthAdjust="spacingAndGlyphs">0.0</text><line x1="575.4" y1="804.8" x2="575.4" y2="808" stroke="#333" stroke-width="1.1"/><text x="575.4" y="820.9" font-family="Liberation Sans" font-size="11.7" fill="#262626" text-anchor="middle" textLength="17.4" lengthAdjust="spacingAndGlyphs">0.5</text><line x1="616.5" y1="804.8" x2="616.5" y2="808" stroke="#333" stroke-width="1.1"/><text x="616.5" y="820.9" font-family="Liberation Sans" font-size="11.7" fill="#262626" text-anchor="middle" textLength="17.4" lengthAdjust="spacingAndGlyphs">1.0</text><line x1="657.7" y1="804.8" x2="657.7" y2="808" stroke="#333" stroke-width="1.1"/><text x="657.7" y="820.9" font-family="Liberation Sans" font-size="11.7" fill="#262626" text-anchor="middle" textLength="17.4" lengthAdjust="spacingAndGlyphs">1.5</text><text x="385.0" y="835.3" font-family="Liberation Sans" font-size="11.7" fill="#262626" textLength="196.8" lengthAdjust="spacingAndGlyphs">Normalized Enrichment Score (NES)</text><text transform="translate(49.6,670.6) rotate(-90)" font-family="Liberation Sans" font-size="11.7" fill="#262626" textLength="51.9" lengthAdjust="spacingAndGlyphs">Pathways</text></svg>
</body></html>
